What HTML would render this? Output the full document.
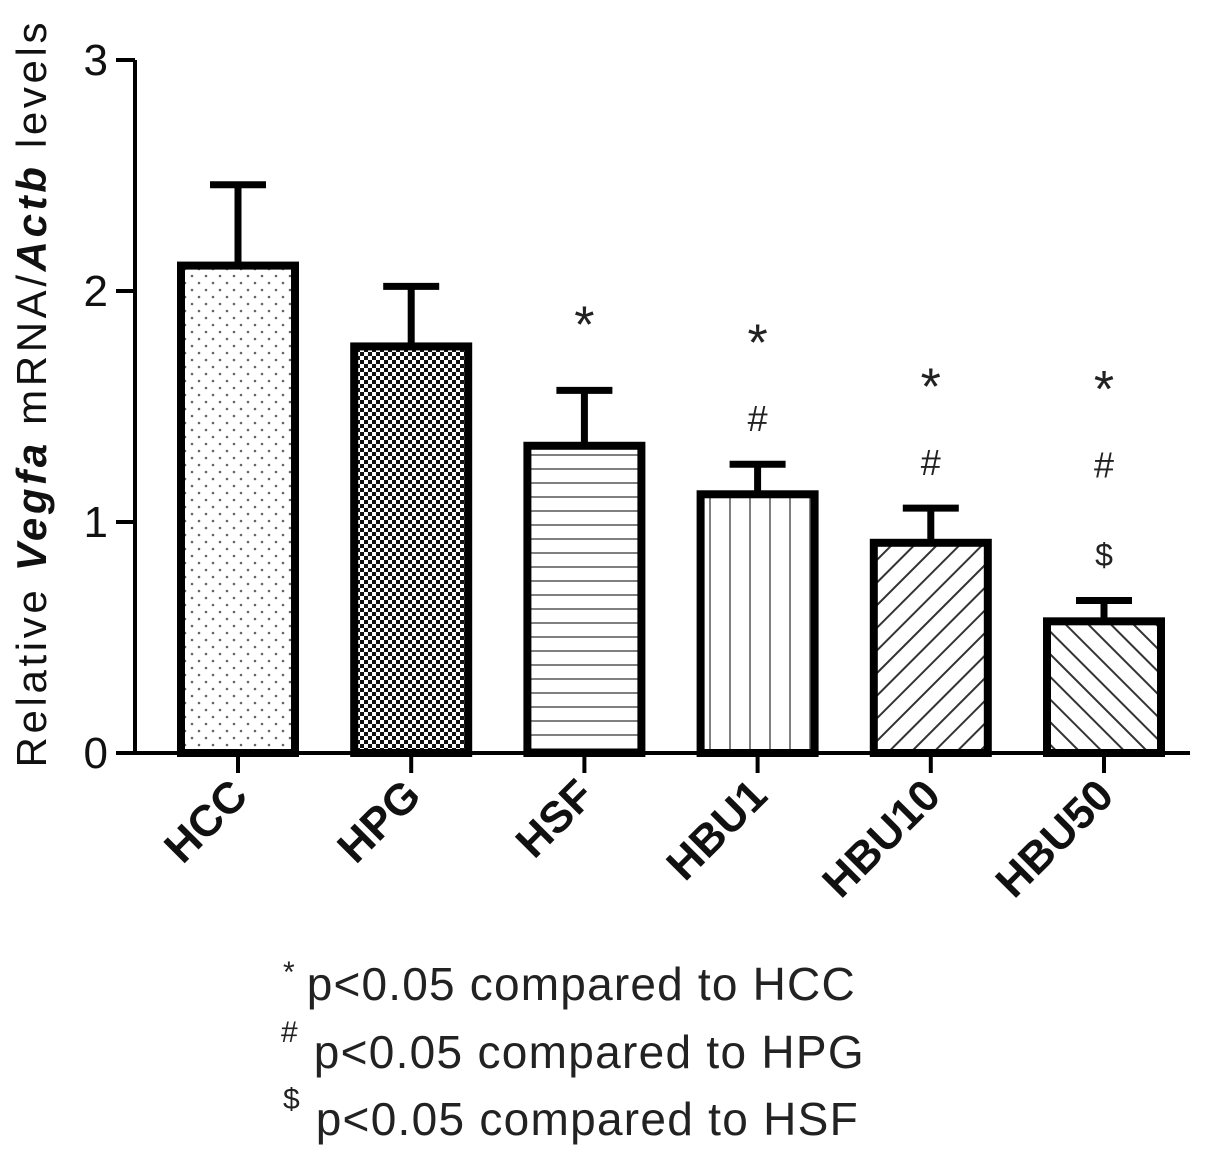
<!DOCTYPE html>
<html><head><meta charset="utf-8"><style>
html,body{margin:0;padding:0;background:#fff;}
svg{display:block;font-family:"Liberation Sans",Arial,sans-serif;}
</style></head><body>
<svg id="chart" width="1205" height="1157" viewBox="0 0 1205 1157">
<defs>
<pattern id="p0" width="14" height="14" patternUnits="userSpaceOnUse"><circle cx="3" cy="3" r="1.3" fill="#666"/><circle cx="10" cy="10" r="1.3" fill="#666"/></pattern>
<pattern id="p1" width="8" height="8" patternUnits="userSpaceOnUse"><rect width="8" height="8" fill="#fff"/><rect x="0" y="0" width="4" height="4" fill="#111"/><rect x="4" y="4" width="4" height="4" fill="#111"/></pattern>
<pattern id="p2" width="10" height="14" patternUnits="userSpaceOnUse"><line x1="0" y1="7" x2="10" y2="7" stroke="#555" stroke-width="1.5"/></pattern>
<pattern id="p3" width="20" height="10" patternUnits="userSpaceOnUse"><line x1="10" y1="0" x2="10" y2="10" stroke="#555" stroke-width="1.5"/></pattern>
<pattern id="p4" width="16" height="16" patternUnits="userSpaceOnUse" patternTransform="rotate(45)"><line x1="8" y1="0" x2="8" y2="16" stroke="#333" stroke-width="2"/></pattern>
<pattern id="p5" width="16" height="16" patternUnits="userSpaceOnUse" patternTransform="rotate(-45)"><line x1="8" y1="0" x2="8" y2="16" stroke="#333" stroke-width="2"/></pattern>
</defs>
<g id="plot"></g>
<text transform="translate(46,395) rotate(-90)" text-anchor="middle" font-size="42" fill="#111" textLength="745" lengthAdjust="spacing">Relative <tspan font-weight="bold" font-style="italic">Vegfa</tspan> mRNA/<tspan font-weight="bold" font-style="italic">Actb</tspan> levels</text>
<g font-size="46" fill="#222">
<text x="283" y="1000"><tspan font-size="30" dy="-18">*</tspan><tspan dy="18" dx="12" textLength="548">p&lt;0.05 compared to HCC</tspan></text>
<text x="281" y="1068"><tspan font-size="30" dy="-26">#</tspan><tspan dy="26" dx="16" textLength="550">p&lt;0.05 compared to HPG</tspan></text>
<text x="283" y="1135"><tspan font-size="30" dy="-26">$</tspan><tspan dy="26" dx="16" textLength="542">p&lt;0.05 compared to HSF</tspan></text>
</g>
</svg>
<script>
const categories = ["HCC","HPG","HSF","HBU1","HBU10","HBU50"];
const means = [2.11, 1.76, 1.33, 1.12, 0.91, 0.57];
const errors = [0.35, 0.26, 0.24, 0.13, 0.15, 0.09];
const yTicks = [0,1,2,3];
const sigMarks = [[],[],["*"],["*","#"],["*","#"],["*","#","$"]];
const fills = ["url(#p0)","url(#p1)","url(#p2)","url(#p3)","url(#p4)","url(#p5)"];

const NS = "http://www.w3.org/2000/svg";
const g = document.getElementById("plot");
const y = v => 753 - v * 231;
const x = i => 238 + i * 173.2;
function mk(tag, attrs, parent){ const e=document.createElementNS(NS,tag); for(const k in attrs) e.setAttribute(k,attrs[k]); (parent||g).appendChild(e); return e; }

categories.forEach((c,i)=>{
  const cx=x(i), top=y(means[i]), et=y(means[i]+errors[i]);
  const eb = mk("line",{x1:cx,x2:cx,y1:top,y2:et,stroke:"#000","stroke-width":7});
  
  
  const cap = mk("line",{x1:cx-28,x2:cx+28,y1:et,y2:et,stroke:"#000","stroke-width":7});
  
  
  const r = mk("rect",{x:cx-57,y:top,width:114,height:y(0)-top,fill:fills[i],stroke:"#000","stroke-width":8});
  
  
  const tk = mk("line",{x1:cx,x2:cx,y1:753,y2:773,stroke:"#000","stroke-width":4});
  
  
  const lb = mk("text",{transform:`translate(${cx+12},${798}) rotate(-45)`,"text-anchor":"end","font-size":44,"font-weight":"bold",fill:"#111"});
  lb.textContent=c;
  
  
  const marks = sigMarks[i];
  const n = marks.length;
  marks.forEach((m,j)=>{
    const center = et - (n===1 ? 80 : 46) - (n-1-j)*90;
    let fs, base;
    if(m==="*"){ fs=52; base=center+0.62*fs; }
    else if(m==="#"){ fs=36; base=center+0.36*fs; }
    else { fs=32; base=center+0.36*fs; }
    const t = mk("text",{x:cx,y:base,"text-anchor":"middle","font-size":fs,fill:"#222"});
    t.textContent=m;
    
    
  });
});
const ax = mk("path",{d:"M135,60 L135,753 L1190,753",fill:"none",stroke:"#000","stroke-width":4});


yTicks.forEach(v=>{
  const t = mk("line",{x1:116,x2:135,y1:y(v),y2:y(v),stroke:"#000","stroke-width":4});
  
  
  const l = mk("text",{x:108,y:y(v)+15,"text-anchor":"end","font-size":44,fill:"#111"});
  l.textContent=v;
  
  
});
</script>
</body></html>
